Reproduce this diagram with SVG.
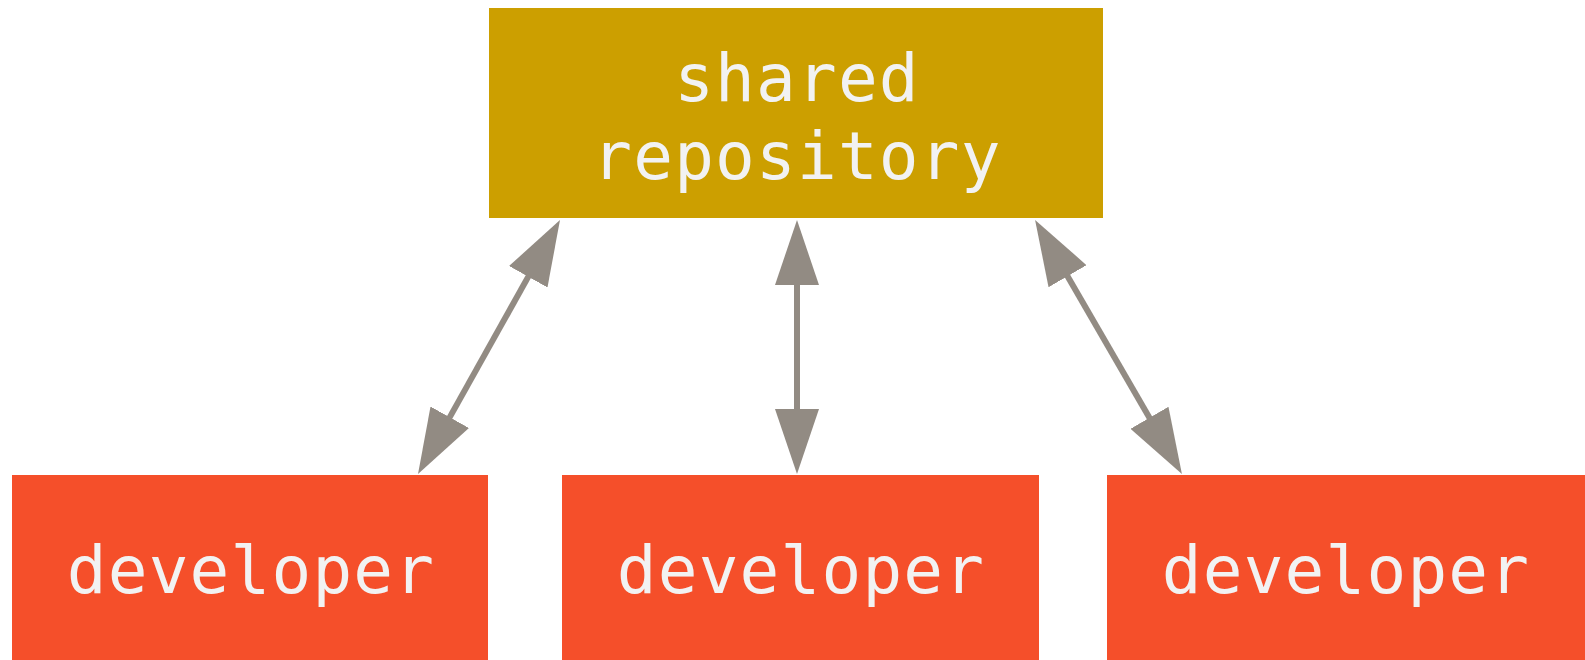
<svg xmlns="http://www.w3.org/2000/svg" width="1585" height="660" viewBox="0 0 1585 660">
  <style>
    .repo { fill: #cc9f00; }
    .dev { fill: #f54f2a; }
    .label { font-family: "DejaVu Sans Mono", "Liberation Mono", monospace; font-size: 66px; letter-spacing: 1.2px; fill: #f2f2f2; text-anchor: middle; }
    .conn { stroke: #928b83; stroke-width: 6; fill: none; marker-start: url(#head); marker-end: url(#head); }
  </style>
  <defs>
    <marker id="head" viewBox="0 0 65 44" refX="5" refY="22" markerWidth="65" markerHeight="44" markerUnits="userSpaceOnUse" orient="auto-start-reverse">
      <path d="M0,0 L65,22 L0,44 z" fill="#928b83"/>
    </marker>
  </defs>
  <rect width="1585" height="660" fill="#ffffff"/>
  <g id="shared-repository">
    <rect class="repo" x="489" y="8" width="614" height="210"/>
    <text class="label" x="797" y="101">shared</text>
    <text class="label" x="797" y="179">repository</text>
  </g>
  <g id="developer-1">
    <rect class="dev" x="12" y="475" width="476" height="185"/>
    <text class="label" x="251" y="593">developer</text>
  </g>
  <g id="developer-2">
    <rect class="dev" x="562" y="475" width="477" height="185"/>
    <text class="label" x="801" y="593">developer</text>
  </g>
  <g id="developer-3">
    <rect class="dev" x="1107" y="475" width="478" height="185"/>
    <text class="label" x="1346" y="593">developer</text>
  </g>
  <g id="connectors">
    <line class="conn" x1="530.7" y1="272.4" x2="447.3" y2="421.6"/>
    <line class="conn" x1="797" y1="280" x2="797" y2="414"/>
    <line class="conn" x1="1065.1" y1="271.9" x2="1151.9" y2="422.1"/>
  </g>
</svg>
